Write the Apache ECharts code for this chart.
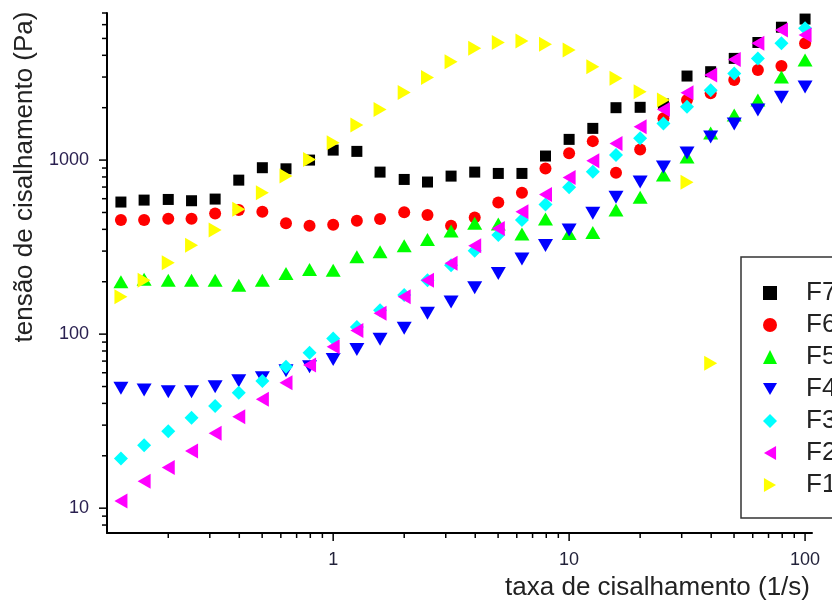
<!DOCTYPE html>
<html><head><meta charset="utf-8">
<script src="https://cdn.jsdelivr.net/npm/echarts@6/dist/echarts.min.js"></script>
<style>html,body{margin:0;padding:0;background:#fff}#c{width:832px;height:603px}</style>
</head><body><div id="c"></div>
<script>
// shear rate (1/s)
const shearRate = [0.126,0.158,0.2,0.251,0.316,0.398,0.501,0.631,0.794,1,1.26,1.58,2,2.51,3.16,3.98,5.01,6.31,7.94,10,12.6,15.8,20,25.1,31.6,39.8,50.1,63.1,79.4,100];
// shear stress (Pa)
const F7 = [574,589,594,584,597,767,904,891,1000,1141,1122,853,774,748,809,853,838,838,1055,1315,1521,2000,2010,2100,3040,3220,3840,4740,5800,6460];
const F6 = [452,452,460,460,494,517,505,433,419,425,448,458,502,483,419,468,571,649,896,1093,1285,845,1152,1742,2213,2420,2884,3290,3470,4690];
const F5 = [200,207,204,204,204,191,204,223,235,233,278,297,322,350,391,433,429,376,458,378,384,517,612,820,1041,1430,1814,2213,3000,3760];
const F4 = [48.8,47.7,46.6,46.6,49.8,53.9,56.1,61.5,64.9,71.6,81.7,93.3,108,132,153,185,223,270,323,396,495,612,748,912,1097,1356,1611,1937,2300,2630];
const F3 = [19.3,23.0,27.7,33.1,38.6,46.0,53.7,64.9,78.1,94.5,110,137,168,204,249,301,371,452,556,697,857,1069,1333,1625,2025,2522,3149,3840,4690,5720];
const F2 = [11.0,14.3,17.1,21.3,26.9,33.5,42.2,52.5,66.4,84.5,105,132,164,204,255,322,404,505,634,795,991,1247,1555,1954,2437,3080,3790,4690,5590,5230];
const F1 = [164,204,257,324,396,521,649,809,1009,1257,1589,1954,2449,2986,3673,4385,4745,4830,4625,4285,3434,2950,2470,2213,745,68.1,null,null,null,null];

const seriesNames = ['F7','F6','F5','F4','F3','F2','F1'];
const seriesValues = [F7,F6,F5,F4,F3,F2,F1];
const seriesColors = ['#000000','#ff0000','#00ff00','#0000ff','#00ffff','#ff00ff','#ffff00'];
const seriesSymbols = ['rect','circle','triangle','triangle','diamond','triangle','triangle'];
const seriesRotate = [0,0,0,180,0,90,-90];
const seriesSizes = [[11,11],[12,12],[15,13],[15,13],[14,14],[15,13],[15,13]];
const legendIcons = ['rect','circle','triangle',
  'path://M0,0L15,0L7.5,13Z', 'diamond',
  'path://M13,0L13,15L0,7.5Z', 'path://M0,0L13,7.5L0,15Z'];

// axis ticks
const xMajorTicks = [1,10,100];
const xMinorTicks = [0.2,0.3,0.4,0.5,0.6,0.7,0.8,0.9,2,3,4,5,6,7,8,9,20,30,40,50,60,70,80,90];
const yMajorTicks = [10,100,1000];
const yMinorTicks = [8,9,20,30,40,50,60,70,80,90,200,300,400,500,600,700,800,900,2000,3000,4000,5000,6000,7000];

const X_MIN = 0.11, X_MAX = 107, Y_MIN = 7.2, Y_MAX = 7000;
const FONT = '"Liberation Sans", Arial, sans-serif';

const chart = echarts.init(document.getElementById('c'), null, {renderer:'canvas'});

const scatterSeries = seriesNames.map((n, k) => ({
  name: n,
  type: 'scatter',
  data: shearRate.map((x, i) => seriesValues[k][i] == null ? null : [x, seriesValues[k][i]]).filter(d => d),
  symbol: seriesSymbols[k],
  symbolRotate: seriesRotate[k],
  symbolSize: seriesSizes[k],
  itemStyle: {color: seriesColors[k], opacity: 1},
  emphasis: {disabled: true},
  z: 3 + k
}));

const xTickData = xMajorTicks.map(v => [v, Y_MIN, 1]).concat(xMinorTicks.map(v => [v, Y_MIN, 0]));
const yTickData = yMajorTicks.map(v => [X_MIN, v, 1]).concat(yMinorTicks.map(v => [X_MIN, v, 0]));

const tickSeries = [
  {
    type: 'custom', name: 'xticks', silent: true, clip: false, z: 2,
    data: xTickData,
    renderItem: (params, api) => {
      const p = api.coord([api.value(0), api.value(1)]);
      const len = api.value(2) ? 8 : 5;
      return {type:'line', shape:{x1:p[0], y1:p[1], x2:p[0], y2:p[1] + len}, style:{stroke:'#000', lineWidth:1.5}};
    }
  },
  {
    type: 'custom', name: 'yticks', silent: true, clip: false, z: 2,
    data: yTickData,
    renderItem: (params, api) => {
      const p = api.coord([api.value(0), api.value(1)]);
      const len = api.value(2) ? 8 : 5;
      return {type:'line', shape:{x1:p[0], y1:p[1], x2:p[0] - len, y2:p[1]}, style:{stroke:'#000', lineWidth:1.5}};
    }
  }
];

chart.setOption({
  animation: false,
  backgroundColor: '#fff',
  grid: {left: 107, right: 20, top: 13, bottom: 70, containLabel: false},
  xAxis: {
    type: 'log', logBase: 10, min: X_MIN, max: X_MAX,
    axisLine: {show: true, lineStyle: {color: '#000', width: 2}},
    axisTick: {show: false},
    splitLine: {show: false},
    axisLabel: {fontSize: 18, color: '#22223a', fontFamily: FONT, margin: 18, showMinLabel: false, showMaxLabel: false,
                formatter: v => String(Math.round(v * 1000) / 1000)}
  },
  yAxis: {
    type: 'log', logBase: 10, min: Y_MIN, max: Y_MAX,
    axisLine: {show: true, lineStyle: {color: '#000', width: 2}},
    axisTick: {show: false},
    splitLine: {show: false},
    axisLabel: {fontSize: 18, color: '#2a2050', fontFamily: FONT, margin: 18, showMinLabel: false, showMaxLabel: false,
                formatter: v => String(Math.round(v))}
  },
  legend: {
    orient: 'vertical', left: 741, top: 257,
    data: seriesNames.map((n, k) => ({name: n, icon: legendIcons[k]})),
    symbolKeepAspect: true,
    borderColor: '#333', borderWidth: 1.5, backgroundColor: '#fff',
    padding: [23, 40, 20, 22],
    itemWidth: 14, itemHeight: 14, itemGap: 6,
    selectedMode: false,
    textStyle: {fontSize: 26, lineHeight: 26, color: '#222', fontFamily: FONT, padding: [0,0,0,24]}
  },
  graphic: [
    {type:'text', x: 25, y: 177, rotation: Math.PI/2,
     style:{text:'tensão de cisalhamento (Pa)', font:'26px ' + FONT, fill:'#222', textAlign:'center', textVerticalAlign:'middle'}},
    {type:'text', x: 810, y: 588,
     style:{text:'taxa de cisalhamento (1/s)', font:'26px ' + FONT, fill:'#222', textAlign:'right', textVerticalAlign:'middle'}}
  ],
  series: scatterSeries.concat(tickSeries)
});
</script>
</body></html>
